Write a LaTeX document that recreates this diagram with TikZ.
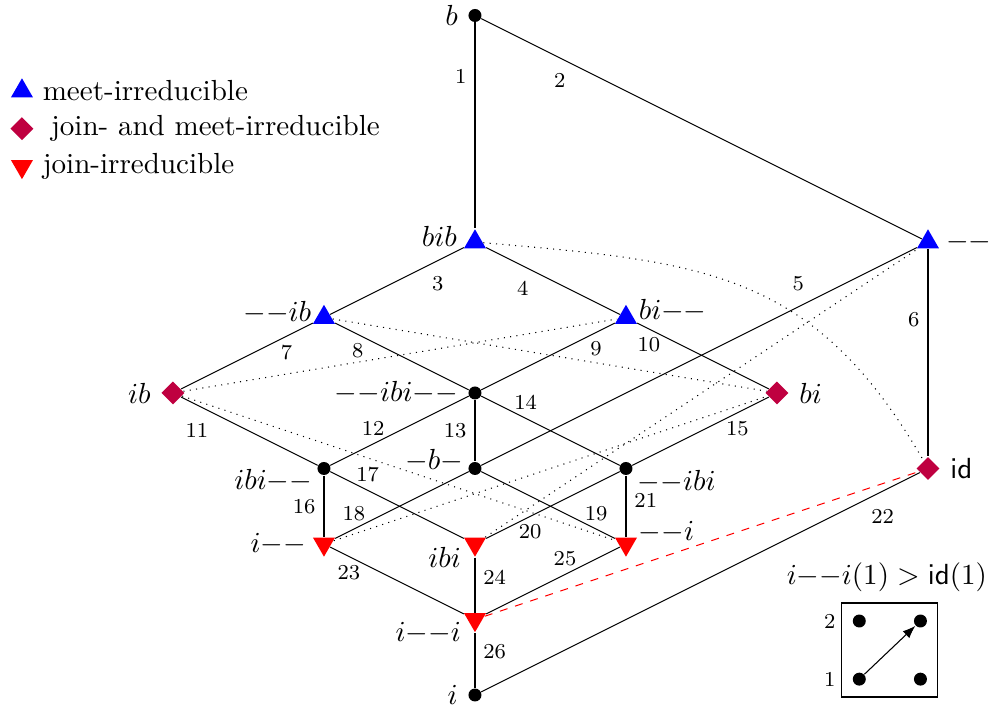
\documentclass[tikz,border=0pt,11pt]{standalone}
\usepackage{amsmath,amssymb}
\usepackage{tikz}
\usepackage{xcolor}
\usetikzlibrary{arrows.meta,positioning,shapes.geometric}
\definecolor{meetblue}{HTML}{0000FF}
\definecolor{bothpurple}{HTML}{BF0040}
\definecolor{joinred}{HTML}{FF0000}
\newcommand{\dneg}{{-}{-}}

\begin{document}
\begin{tikzpicture}[>=Latex]
\tikzstyle{meetirr}=[regular polygon, regular polygon sides=3, fill=meetblue, inner sep=0pt, minimum size=0.336cm]
\tikzstyle{joinirr}=[meetirr, shape border rotate=180, fill=joinred]
\tikzstyle{bothirr}=[diamond, fill=bothpurple, inner sep=0pt, minimum width=0.31cm, minimum height=0.31cm]
\tikzstyle{dotnode}=[circle, fill=black, inner sep=0pt, minimum size=0.172cm]
\tikzstyle{lbl}=[font=\scriptsize, inner sep=3pt]
\useasboundingbox (-6.291,-0.212) rectangle (6.808,9.205);

% legend
\node[meetirr] (legmeet) at (-6,8) {};
\node[right=1pt of legmeet] (txtmeet) {meet-irreducible};
\node[bothirr] (legboth) at (-6,7.5) {};
\node[right=2.5pt of legboth] (txtboth) {join- and meet-irreducible};
\node[joinirr] (legjoin) at (-6,7) {};
\node[right=1pt of legjoin] (txtjoin) {join-irreducible};

% lattice elements
\node[dotnode, label=left:$b$] (b) at (0,9) {};
\node[meetirr, label={[yshift=2pt]left:$bib$}] (bib) at (0,6) {};
\node[meetirr, label=right:$\dneg$] (mm) at (6,6) {};
\node[meetirr, label={[label distance=-2pt, yshift=2pt]left:$\dneg ib$}] (mmib) at (-2,5) {};
\node[meetirr, label={[label distance=-2pt, yshift=2.5pt]right:$bi\dneg$}] (bimm) at (2,5) {};
\node[bothirr, label=left:$ib$] (ib) at (-4,4) {};
\node[dotnode, label=left:$\dneg ibi\dneg$] (mmibimm) at (0,4) {};
\node[bothirr, label=right:$bi$] (bi) at (4,4) {};
\node[bothirr, label=right:$\mathsf{id}$] (id) at (6,3) {};
\node[dotnode, label={[label distance=-2pt, yshift=-4.5pt]left:$ibi\dneg$}] (ibimm) at (-2,3) {};
\node[dotnode, label={[label distance=-2pt, yshift=3pt]left:${-}b{-}$}] (mbm) at (0,3) {};
\node[dotnode, label={[label distance=-2pt, yshift=-5pt]right:$\dneg ibi$}] (mmibi) at (2,3) {};
\node[joinirr, label=left:$i\dneg$] (imm) at (-2,2) {};
\node[joinirr, label={[label distance=-1.5pt, yshift=-5pt]left:$ibi$}] (ibi) at (0,2) {};
\node[joinirr, label={[label distance=-2pt, yshift=4.5pt]right:$\dneg i$}] (mmi) at (2,2) {};
\node[joinirr, label={[label distance=-1.5pt, yshift=-5pt]left:$i\dneg i$}] (immi) at (0,1) {};
\node[dotnode, label=left:$i$] (i) at (0,0) {};

% covering relations
\draw (b) -- node[lbl, pos=.26, left] {1} (bib);
\draw (b) -- node[lbl, pos=.21, below left] {2} (mm);
\draw (bib) -- node[lbl, pos=.3, below right] {3} (mmib);
\draw (bib) -- node[lbl, pos=.38, below left] {4} (bimm);
\draw (mm) -- node[lbl, pos=.24, above left] {5} (mbm);
\draw (mm) -- node[lbl, pos=.34, left] {6} (id);
\draw (mmib) -- node[lbl, pos=.2, below] {7} (ib);
\draw (mmib) -- node[lbl, pos=.17, below] {8} (mmibimm);
\draw (bimm) -- node[lbl, pos=.14, below] {9} (mmibimm);
\draw (bimm) -- node[lbl, pos=.09, below] {10} (bi);
\draw (ib) -- node[lbl, pos=.26, below left] {11} (ibimm);
\draw (mmibimm) -- node[lbl, pos=.69, above] {12} (ibimm);
\draw (mmibimm) -- node[lbl, pos=.5, left] {13} (mbm);
\draw (mmibimm) -- node[lbl, pos=.32, above] {14} (mmibi);
\draw (bi) -- node[lbl, pos=.23, below] {15} (mmibi);
\draw (ibimm) -- node[lbl, pos=.5, left] {16} (imm);
\draw (ibimm) -- node[lbl, pos=.28, above] {17} (ibi);
\draw (mbm) -- node[lbl, pos=.86, above] {18} (imm);
\draw (mbm) -- node[lbl, pos=.86, above] {19} (mmi);
\draw (mmibi) -- node[lbl, pos=.67, below] {20} (ibi);
\draw (mmibi) -- node[lbl, pos=.4, right] {21} (mmi);
\draw (id) -- node[lbl, pos=.13, below right] {22} (i);
\draw (imm) -- node[lbl, pos=.14, below] {23} (immi);
\draw (ibi) -- node[lbl, pos=.36, right] {24} (immi);
\draw (mmi) -- node[lbl, pos=.41, above] {25} (immi);
\draw (immi) -- node[lbl, pos=.34, right] {26} (i);

% arrows between irreducibles
\draw[dotted] (bib) to[out=-5, in=120, looseness=1.15] (id);
\draw[dotted] (mmib) -- (bi);
\draw[dotted] (ib) -- (bimm);
\draw[dotted] (ib) -- (mmi);
\draw[dotted] (imm) -- (bi);
\draw[dotted] (ibi) -- (mm);
\draw[dashed, joinred] (immi) -- (id);

% small example
\node[draw, minimum width=1.26cm, minimum height=1.245cm] (inset) at (5.49,0.596) {};
\node[above=0pt of inset, xshift=-1pt] (insettitle) {$i\dneg i(1) > \mathsf{id}(1)$};
\node[dotnode] (p11) at (5.09,0.21) {};
\node[dotnode] (p21) at (5.90,0.21) {};
\node[dotnode] (p12) at (5.09,0.98) {};
\node[dotnode] (p22) at (5.90,0.98) {};
\node[font=\scriptsize] (row1) at (4.70,0.21) {1};
\node[font=\scriptsize] (row2) at (4.70,0.98) {2};
\draw[->] (p11) -- (p22);
\end{tikzpicture}
\end{document}
